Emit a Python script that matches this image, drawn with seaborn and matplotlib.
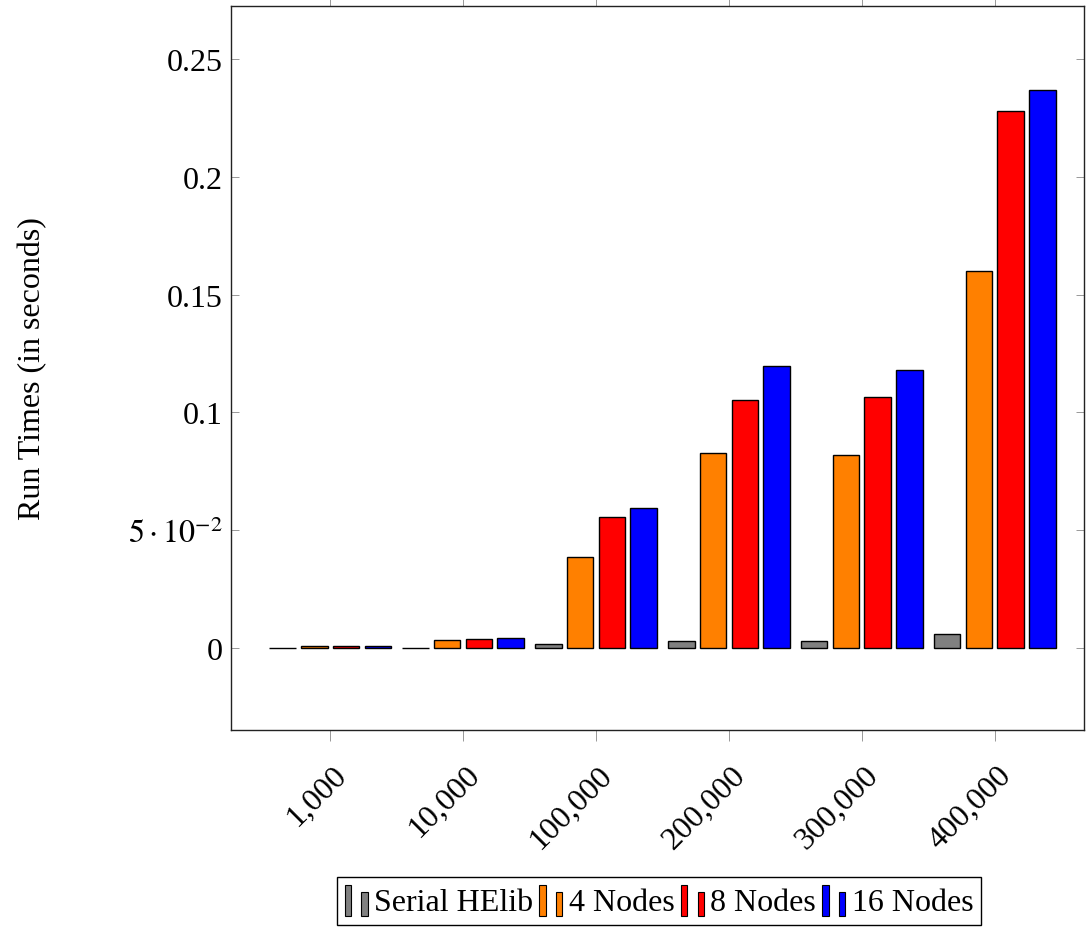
import matplotlib
matplotlib.use("Agg")
import matplotlib.pyplot as plt
import matplotlib.transforms as mtransforms
from matplotlib.patches import Rectangle
from matplotlib.legend_handler import HandlerBase
import seaborn as sns
import pandas as pd

# ---- data ----
sizes = ["1,000", "10,000", "100,000", "200,000", "300,000", "400,000"]
configs = ["Serial HElib", "4 Nodes", "8 Nodes", "16 Nodes"]
serial_helib = [0.0001, 0.0002, 0.0016, 0.0029, 0.0029, 0.0058]
nodes_4 = [0.0007, 0.0034, 0.0387, 0.0829, 0.0820, 0.1599]
nodes_8 = [0.0007, 0.0040, 0.0555, 0.1053, 0.1067, 0.2278]
nodes_16 = [0.0007, 0.0042, 0.0593, 0.1198, 0.1179, 0.2368]
colors = ["#808080", "#FF8000", "#FF0000", "#0000FF"]
ytick_vals = [0, 0.05, 0.1, 0.15, 0.2, 0.25]
ytick_labels = ["0", r"$5\cdot10^{-2}$", "0.1", "0.15", "0.2", "0.25"]

series = [serial_helib, nodes_4, nodes_8, nodes_16]
rows = []
for cfg, vals in zip(configs, series):
    for s, v in zip(sizes, vals):
        rows.append({"size": s, "config": cfg, "time": v})
df = pd.DataFrame(rows)

sns.set_style("white")
plt.rcParams["font.family"] = ["Liberation Serif", "DejaVu Serif"]
plt.rcParams["mathtext.fontset"] = "stix"
plt.rcParams["text.color"] = "black"
plt.rcParams["axes.labelcolor"] = "black"
plt.rcParams["xtick.labelcolor"] = "black"
plt.rcParams["ytick.labelcolor"] = "black"

fig = plt.figure(figsize=(10.86, 9.28), dpi=100)
ax = fig.add_axes([231/1086, 1-731/928, (1084-231)/1086, (731-7)/928])

sns.barplot(data=df, x="size", y="time", hue="config", order=sizes,
            hue_order=configs, palette=colors, width=0.96, gap=0.16,
            edgecolor="black", linewidth=1.0, saturation=1, legend=False, ax=ax)

ax.set_xlim(-0.745, 5.67)
ax.set_ylim(-0.0348, 0.2725)
ax.set_yticks(ytick_vals)
ax.set_yticklabels(ytick_labels)
ax.set_xlabel("")
ax.set_ylabel("Run Times (in seconds)", fontsize=23, labelpad=58, color="black")

for sp in ax.spines.values():
    sp.set_visible(True)
    sp.set_color("#222222")
    sp.set_linewidth(1.0)

ax.tick_params(axis="y", which="both", direction="in", left=True, right=True,
               length=6, width=0.6, color="#888888", labelsize=23, pad=6,
               labelcolor="black")
ax.tick_params(axis="x", which="both", direction="out", bottom=True, top=True,
               length=8, width=0.6, color="#888888", labelsize=23, pad=21,
               labelcolor="black")
shift = mtransforms.ScaledTranslation(12/100, 0, fig.dpi_scale_trans)
for lab in ax.get_xticklabels():
    lab.set_rotation(45)
    lab.set_ha("right")
    lab.set_va("center")
    lab.set_rotation_mode("anchor")
    lab.set_transform(lab.get_transform() + shift)


class TwoBars(HandlerBase):
    def create_artists(self, legend, orig_handle, xdescent, ydescent,
                       width, height, fontsize, trans):
        fc = orig_handle.get_facecolor()
        bw = width * 0.27
        r1 = Rectangle((-xdescent, -ydescent - height*0.15), bw, height*1.15,
                       facecolor=fc, edgecolor="black", linewidth=0.8, transform=trans)
        r2 = Rectangle((-xdescent + width - bw, -ydescent - height*0.15), bw, height*0.9,
                       facecolor=fc, edgecolor="black", linewidth=0.8, transform=trans)
        return [r1, r2]


handles = [Rectangle((0, 0), 1, 1, facecolor=c) for c in colors]
leg = fig.legend(handles, configs, loc="center",
                 bbox_to_anchor=(659/1086, 1-902/928), ncol=4, fontsize=23,
                 handler_map={Rectangle: TwoBars()}, handlelength=0.72,
                 handleheight=0.9, handletextpad=0.2, columnspacing=0.2,
                 borderpad=0.25, frameon=True, fancybox=False, framealpha=1,
                 edgecolor="black")
leg.get_frame().set_linewidth(1.0)
for t in leg.get_texts():
    t.set_color("black")

fig.savefig("out.png", dpi=100)
